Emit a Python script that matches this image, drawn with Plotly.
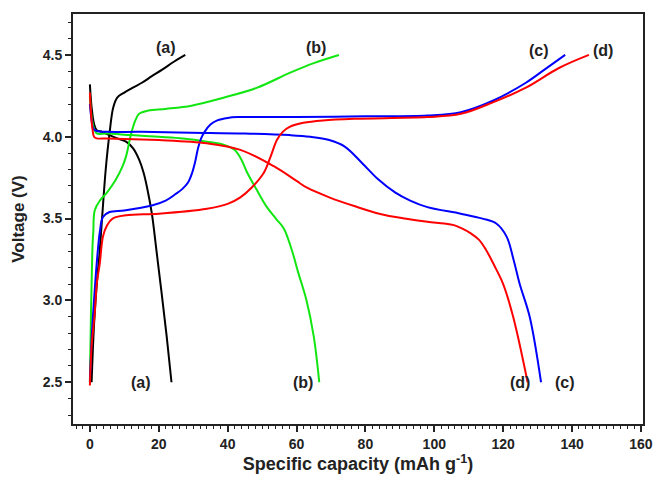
import plotly.graph_objects as go

# (a) black
a_chg_x = [0.5, 1.2, 2.0, 2.9, 3.7, 4.6, 5.7, 6.8, 8.0, 10.0, 12.5, 15.1, 18.0, 21.0, 24.5, 27.7]
a_chg_y = [2.50, 2.85, 3.10, 3.31, 3.55, 3.80, 4.02, 4.18, 4.24, 4.27, 4.30, 4.33, 4.37, 4.41, 4.46, 4.50]
a_dis_x = [0.0, 0.5, 1.2, 2.0, 3.5, 5.7, 8.0, 10.5, 12.5, 14.3, 15.6, 16.6, 18.0, 19.3, 20.8, 22.3, 23.7]
a_dis_y = [4.32, 4.18, 4.08, 4.04, 4.03, 4.01, 3.99, 3.97, 3.93, 3.86, 3.78, 3.69, 3.53, 3.31, 3.05, 2.78, 2.50]

# (b) green
b_chg_x = [0.0, 0.3, 0.6, 0.8, 1.0, 1.4, 2.9, 5.0, 7.6, 9.5, 10.5, 12.0, 13.2, 14.3, 17.0, 22.0, 29.5, 39.0, 48.6, 58.0, 65.0, 72.3]
b_chg_y = [2.50, 2.90, 3.20, 3.35, 3.42, 3.55, 3.61, 3.66, 3.74, 3.82, 3.88, 4.02, 4.10, 4.14, 4.16, 4.17, 4.19, 4.24, 4.30, 4.39, 4.45, 4.50]
b_dis_x = [0.0, 0.5, 1.2, 2.0, 5.0, 12.0, 20.0, 27.0, 34.0, 39.0, 42.0, 44.0, 45.7, 48.6, 51.4, 54.0, 56.3, 58.6, 60.5, 62.9, 65.0, 66.6]
b_dis_y = [4.25, 4.12, 4.05, 4.02, 4.02, 4.01, 4.00, 3.99, 3.97, 3.95, 3.92, 3.86, 3.78, 3.67, 3.57, 3.50, 3.44, 3.31, 3.17, 3.00, 2.78, 2.50]

# (c) blue
c_chg_x = [0.0, 0.6, 1.2, 2.0, 2.9, 3.8, 5.7, 10.0, 18.0, 22.0, 24.9, 26.8, 28.5, 29.7, 30.6, 31.4, 32.3, 33.3, 35.0, 37.0, 40.0, 43.0, 60.0, 80.0, 98.0, 107.7, 117.0, 126.6, 132.0, 138.0]
c_chg_y = [2.50, 2.80, 3.00, 3.23, 3.42, 3.51, 3.54, 3.55, 3.58, 3.61, 3.65, 3.68, 3.72, 3.78, 3.85, 3.93, 3.99, 4.03, 4.075, 4.10, 4.115, 4.12, 4.12, 4.125, 4.13, 4.15, 4.22, 4.33, 4.41, 4.50]
c_dis_x = [0.0, 0.5, 1.0, 2.0, 5.0, 15.0, 29.5, 45.0, 58.0, 64.0, 69.5, 74.0, 79.0, 83.7, 88.6, 93.0, 98.0, 107.7, 114.0, 118.0, 121.0, 123.0, 124.8, 127.7, 131.0]
c_dis_y = [4.20, 4.10, 4.05, 4.035, 4.03, 4.03, 4.025, 4.02, 4.01, 4.00, 3.98, 3.94, 3.84, 3.74, 3.66, 3.61, 3.57, 3.53, 3.50, 3.47, 3.39, 3.25, 3.10, 2.90, 2.50]

# (d) red
d_chg_x = [0.0, 0.5, 1.4, 2.0, 2.9, 3.8, 5.0, 6.6, 10.5, 20.0, 34.0, 40.0, 43.7, 47.0, 50.5, 52.5, 54.3, 56.0, 58.0, 62.0, 67.7, 77.0, 98.0, 107.7, 117.0, 126.6, 136.2, 144.9]
d_chg_y = [2.48, 2.72, 2.92, 3.10, 3.23, 3.39, 3.46, 3.50, 3.52, 3.53, 3.56, 3.59, 3.63, 3.69, 3.78, 3.88, 3.98, 4.03, 4.06, 4.085, 4.10, 4.11, 4.12, 4.14, 4.21, 4.30, 4.42, 4.50]
d_dis_x = [0.0, 0.4, 0.8, 1.2, 2.0, 5.0, 20.0, 34.0, 43.7, 53.4, 60.0, 62.9, 69.5, 77.0, 84.0, 91.4, 98.0, 102.9, 105.7, 108.0, 110.6, 113.0, 115.0, 117.5, 120.0, 122.9, 127.1]
d_dis_y = [4.27, 4.12, 4.04, 4.00, 3.99, 3.99, 3.98, 3.96, 3.92, 3.82, 3.73, 3.69, 3.63, 3.575, 3.53, 3.50, 3.48, 3.47, 3.46, 3.44, 3.41, 3.37, 3.31, 3.21, 3.10, 2.90, 2.50]

series = [
    ("a", "#000000", a_chg_x, a_chg_y, a_dis_x, a_dis_y),
    ("b", "#11e611", b_chg_x, b_chg_y, b_dis_x, b_dis_y),
    ("c", "#0000ff", c_chg_x, c_chg_y, c_dis_x, c_dis_y),
    ("d", "#ff0000", d_chg_x, d_chg_y, d_dis_x, d_dis_y),
]

label_text = ["(a)", "(b)", "(c)", "(d)"]
label_top_x = [22.0, 65.7, 130.3, 149.1]
label_top_y = [4.545, 4.545, 4.53, 4.53]
label_bot_x = [14.9, 62.0, 138.0, 124.9]
label_bot_y = [2.50, 2.50, 2.50, 2.50]

FONT = "Liberation Sans, Arial, sans-serif"
INK = "#222222"

fig = go.Figure()
for name, col, cx, cy, dx, dy in series:
    for xs, ys in ((cx, cy), (dx, dy)):
        fig.add_trace(go.Scatter(x=xs, y=ys, mode="lines",
                                 line=dict(color=col, width=2, shape="spline", smoothing=1.0),
                                 showlegend=False, hoverinfo="skip"))

lab_font = dict(family=FONT, size=16, color=INK)
for t, x, y in zip(label_text, label_top_x, label_top_y):
    fig.add_annotation(x=x, y=y, text="<b>%s</b>" % t, showarrow=False, font=lab_font)
for t, x, y in zip(label_text, label_bot_x, label_bot_y):
    fig.add_annotation(x=x, y=y, text="<b>%s</b>" % t, showarrow=False, font=lab_font)

axis_common = dict(showline=True, linecolor=INK, linewidth=2, mirror=True,
                   ticks="outside", ticklen=6, tickwidth=1.5, tickcolor=INK,
                   showgrid=False, zeroline=False,
                   tickfont=dict(family=FONT, size=14, color=INK))

x_ticks = [0, 20, 40, 60, 80, 100, 120, 140, 160]
y_ticks = [2.5, 3.0, 3.5, 4.0, 4.5]

fig.update_layout(
    width=665, height=480,
    margin=dict(l=73, r=13, t=14, b=56),
    paper_bgcolor="white", plot_bgcolor="white",
    xaxis=dict(range=[-4.9, 160.6],
               tickvals=x_ticks,
               ticktext=["<b>%d</b>" % v for v in x_ticks],
               minor=dict(dtick=2, tick0=0, ticks="outside", ticklen=3, tickcolor=INK, tickwidth=1),
               title=dict(text="<b>Specific capacity (mAh g<sup>-1</sup>)</b>", standoff=4,
                          font=dict(family=FONT, size=18, color=INK)),
               **axis_common),
    yaxis=dict(range=[2.245, 4.75],
               tickvals=y_ticks,
               ticktext=["<b>%.1f</b>" % v for v in y_ticks],
               minor=dict(dtick=0.1, tick0=2.5, ticks="outside", ticklen=3, tickcolor=INK, tickwidth=1),
               title=dict(text="<b>Voltage (V)</b>", standoff=14,
                          font=dict(family=FONT, size=17, color=INK)),
               **axis_common),
)

fig.write_html("out.html")
